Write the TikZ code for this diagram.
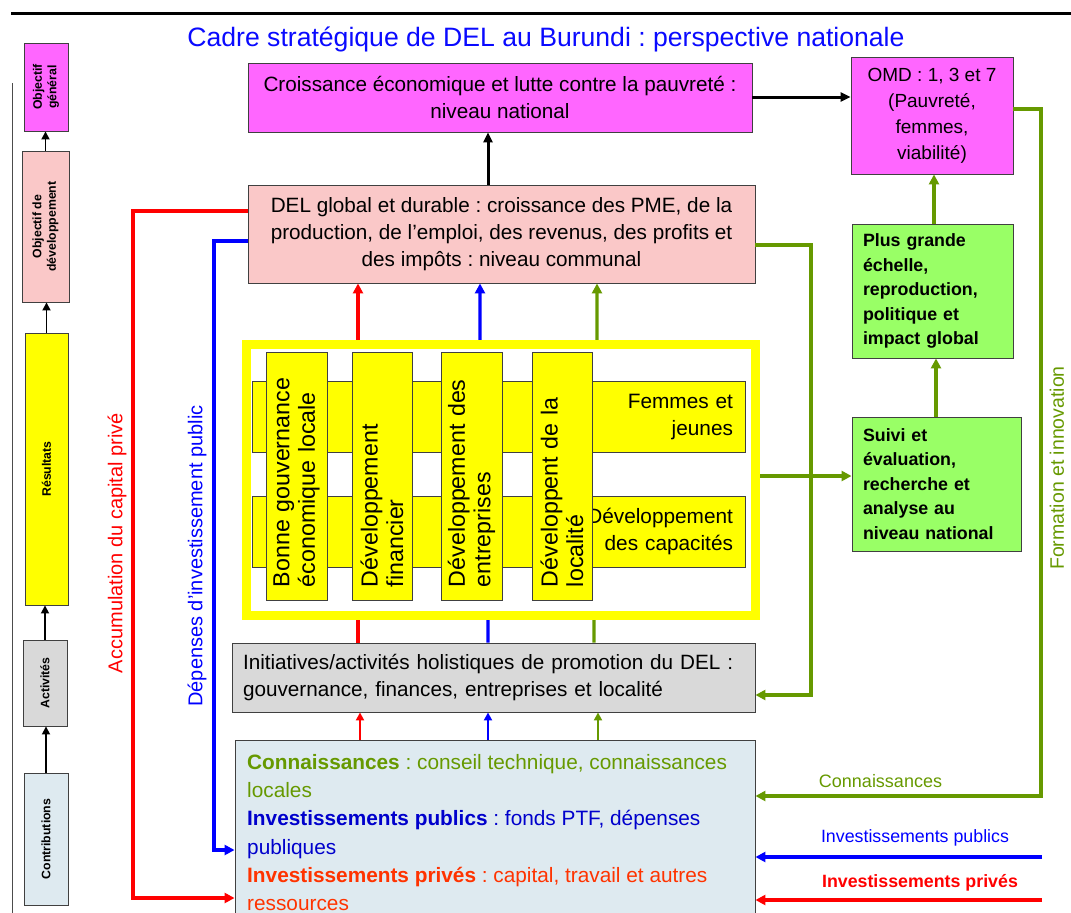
\documentclass[tikz,border=0pt]{standalone}
\usepackage{fontspec}
\setmainfont{Liberation Sans}
\usetikzlibrary{arrows.meta}
\definecolor{mag}{RGB}{255,102,255}
\definecolor{pinkb}{RGB}{250,200,200}
\definecolor{yel}{RGB}{255,255,0}
\definecolor{grayb}{RGB}{217,217,217}
\definecolor{lblue}{RGB}{222,234,240}
\definecolor{lgreen}{RGB}{153,255,102}
\definecolor{olive}{RGB}{102,153,0}
\definecolor{dblue}{RGB}{0,0,204}
\definecolor{tblue}{RGB}{10,10,255}
\definecolor{ored}{RGB}{255,51,0}
\definecolor{bord}{RGB}{64,64,64}
\newcommand\fs[2]{\fontsize{#1}{#2}\selectfont}
\frenchspacing
\begin{document}
\begin{tikzpicture}[x=1pt,y=-1pt,
  box/.style={draw=bord,line width=0.9pt,inner sep=0pt},
  leftbox/.style={box,rotate=90,font=\bfseries\fs{12.3}{14.5},align=center},
  vbar/.style={box,fill=yel,rotate=90,minimum width=248pt,inner xsep=13pt,text width=222pt,align=left,font=\fs{23.2}{25.5}},
  hbar/.style={box,fill=yel,minimum width=493pt,minimum height=71pt,inner xsep=12pt,text width=469pt,align=right,font=\fs{20.8}{27}},
  greenbox/.style={box,fill=lgreen,inner xsep=11pt,align=left,font=\bfseries\fs{17.8}{24.5}},
  ctext/.style={anchor=base west,inner sep=0pt,font=\fs{20.8}{28}},
  barr/.style={line width=3pt,-{Triangle[length=10pt,width=9pt]}},
  carr/.style={line width=3.2pt,-{Triangle[length=10pt,width=10pt]}},
  sarr/.style={line width=2.4pt,-{Triangle[length=8pt,width=8pt]}},
  larr/.style={line width=1.7pt,-{Triangle[length=8pt,width=8pt]}},
  sidelabel/.style={rotate=90,font=\fs{20}{24}},
]
\useasboundingbox (0,0) rectangle (1071,913);
\draw[line width=3pt] (11,13) -- (1071,13);
\draw[line width=0.8pt,draw=black!70] (12,83) -- (12,913);

\node[anchor=base,text=tblue,font=\fs{26.6}{30}] (title) at (546,46) {Cadre stratégique de DEL au Burundi : perspective nationale};

% left column
\node[leftbox,fill=mag,minimum width=88pt,minimum height=44pt] (objgen) at (46,87) {Objectif\\général};
\node[leftbox,fill=pinkb,minimum width=151pt,minimum height=47pt] (objdev) at (45.5,226.5) {Objectif de\\développement};
\node[leftbox,fill=yel,minimum width=272pt,minimum height=43pt] (res) at (46.5,469) {Résultats};
\node[leftbox,fill=grayb,minimum width=86pt,minimum height=44pt] (act) at (45,683) {Activités};
\node[leftbox,fill=lblue,minimum width=132pt,minimum height=44pt] (contribL) at (46,839) {Contributions};
\draw[larr] (contribL.east) -- (contribL.east |- act.west);
\draw[larr] (act.east) -- (act.east |- res.west);
\draw[larr] (res.east) -- (res.east |- objdev.west);
\draw[larr] (objdev.east) -- (objdev.east |- objgen.west);

% main boxes
\node[box,fill=mag,minimum width=504pt,minimum height=69pt,align=center,font=\fs{20.7}{27}] (croiss) at (500,97.5) {Croissance économique et lutte contre la pauvreté :\\niveau national};
\node[box,fill=mag,minimum width=162pt,minimum height=117pt,align=center,font=\fs{19}{26}] (omd) at (932,115.5) {OMD : 1, 3 et 7\\(Pauvreté,\\femmes,\\viabilité)};
\node[box,fill=pinkb,minimum width=507pt,minimum height=98pt,align=center,font=\fs{20.7}{27}] (del) at (501.5,234) {DEL global et durable : croissance des PME, de la\\production, de l’emploi, des revenus, des profits et\\des impôts : niveau communal};
\node[greenbox,minimum width=161pt,minimum height=134pt,text width=139pt] (plus) at (932.5,291) {Plus grande\\échelle,\\reproduction,\\politique et\\impact global};
\node[greenbox,minimum width=169pt,minimum height=134pt,text width=147pt] (suivi) at (936.5,484) {Suivi et\\évaluation,\\recherche et\\analyse au\\niveau national};
\node[box,fill=grayb,minimum width=523pt,minimum height=69pt,inner xsep=11pt,text width=501pt,align=left,font=\fs{20.7}{27}] (init) at (493.5,677.5) {Initiatives/activités holistiques de promotion du DEL :\\gouvernance, finances, entreprises et localité};
\node[box,fill=lblue,minimum width=520pt,minimum height=190pt] (contrib) at (495,835) {};

% contributions text
\node[ctext,text=olive] (c1) at (247,769) {\textbf{Connaissances} : conseil technique, connaissances};
\node[ctext,text=olive] (c2) at (247,797.5) {locales};
\node[ctext,text=dblue] (c3) at (247,825.5) {\textbf{Investissements publics} : fonds PTF, dépenses};
\node[ctext,text=dblue] (c4) at (247,854) {publiques};
\node[ctext,text=ored] (c5) at (247,882) {\textbf{Investissements privés} : capital, travail et autres};
\node[ctext,text=ored] (c6) at (247,910) {ressources};

% vertical connectors behind the frame
\coordinate (rx) at (358,0);
\coordinate (bxa) at (488,0);
\coordinate (bxb) at (480,0);
\coordinate (gxa) at (594,0);
\coordinate (gxb) at (597,0);
\draw[red,carr] (rx |- init.north) -- (rx |- del.south);
\draw[blue,carr] (bxa |- init.north) -- (488,612) -- (480,352) -- (bxb |- del.south);
\draw[olive,carr] (gxa |- init.north) -- (594,612) -- (597,352) -- (gxb |- del.south);

\coordinate (rx2) at (360,0);
\coordinate (gx2) at (598,0);
\draw[red,sarr] (rx2 |- contrib.north) -- (rx2 |- init.south);
\draw[blue,sarr] (bxa |- contrib.north) -- (bxa |- init.south);
\draw[olive,sarr] (gx2 |- contrib.north) -- (gx2 |- init.south);

% yellow frame and bars
\node[draw=yel,line width=9pt,fill=white,minimum width=509pt,minimum height=271pt,inner sep=0pt] (frame) at (501,480) {};
\node[hbar] (hb1) at (498.5,416.5) {Femmes et\\jeunes};
\node[hbar] (hb2) at (498.5,531.5) {Développement\\des capacités};
\node[vbar,minimum height=61pt] (v1) at (296.5,476) {Bonne gouvernance\\économique locale};
\node[vbar,minimum height=60pt] (v2) at (382,476) {Développement\\financier};
\node[vbar,minimum height=61pt] (v3) at (471.5,476) {Développement des\\entreprises};
\node[vbar,minimum height=60pt] (v4) at (562,476) {Développent de la\\localité};

% black arrows
\coordinate (kx) at (488,0);
\draw[barr] (kx |- del.north) -- (kx |- croiss.south);
\draw[barr] (croiss.east |- 0,97) -- (omd.west |- 0,97);

% left long lines
\draw[red,carr] (del.west |- 0,211) -| (133,898) -- (contrib.west |- 0,898);
\draw[blue,carr] (del.west |- 0,241) -| (214,850) -- (contrib.west |- 0,850);
\node[sidelabel,text=red] (lblacc) at (117,543) {Accumulation du capital privé};
\node[sidelabel,text=blue] (lbldep) at (197,556) {Dépenses d’investissement public};

% right green connectors
\draw[olive,carr] (del.east |- 0,245) -| (811,695) -- (init.east |- 0,695);
\draw[olive,carr] (frame.east |- 0,476) -- (suivi.west |- 0,476);
\coordinate (ga) at (936,0);
\coordinate (gb) at (934,0);
\draw[olive,carr] (ga |- suivi.north) -- (ga |- plus.south);
\draw[olive,carr] (gb |- plus.north) -- (gb |- omd.south);
\draw[olive,carr] (omd.east |- 0,109) -| (1041,796) -- (contrib.east |- 0,796);
\node[sidelabel,text=olive,font=\fs{19.5}{24}] (lblform) at (1057,468) {Formation et innovation};
\node[anchor=base,text=olive,font=\fs{18}{22}] (lblcon) at (880.5,787) {Connaissances};

\coordinate (bstart) at (1042,857);
\coordinate (rstart) at (1042,900);
\draw[blue,carr] (bstart) -- (contrib.east |- bstart);
\draw[red,carr] (rstart) -- (contrib.east |- rstart);
\node[anchor=base,text=blue,font=\fs{17.8}{22}] (lblpub) at (915,842) {Investissements publics};
\node[anchor=base,text=red,font=\bfseries\fs{17.8}{22}] (lblpri) at (920,887) {Investissements privés};
\end{tikzpicture}
\end{document}
